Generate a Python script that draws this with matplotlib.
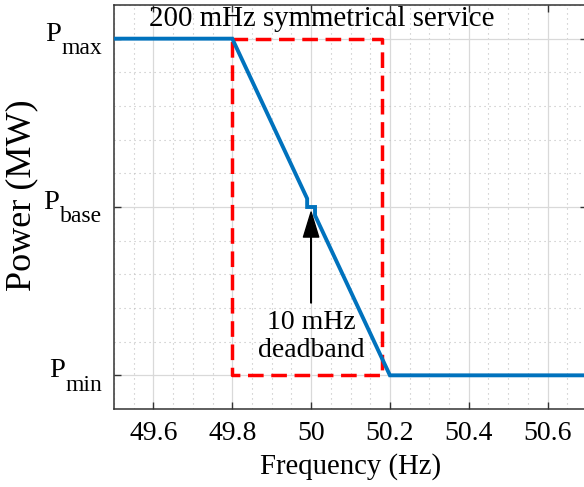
import numpy as np
import matplotlib
matplotlib.use("Agg")
import matplotlib.pyplot as plt
from matplotlib.ticker import MultipleLocator

plt.rcParams["font.family"] = ["Liberation Serif", "DejaVu Serif"]

# Niveles de potencia (normalizados)
p_min, p_base, p_max = -1.0, 0.0, 1.0
nombres_y = ["min", "base", "max"]

# Curva de respuesta en frecuencia con banda muerta de 10 mHz
frec = [49.5, 49.8, 49.99, 49.99, 50.01, 50.01, 50.2, 50.7]
potencia = [1.0, 1.0, 0.05, 0.0, 0.0, -0.05, -1.0, -1.0]

# Caja del servicio simetrico de 200 mHz
caja_x = [49.8, 50.18]
caja_y = [p_min, p_max]

ticks_x = [49.6, 49.8, 50.0, 50.2, 50.4, 50.6]
etiquetas_x = ["49.6", "49.8", "50", "50.2", "50.4", "50.6"]

azul = (0.0, 0.447, 0.741)

fig = plt.figure(figsize=(5.84, 4.87), dpi=100)
ax = fig.add_axes([114 / 584, 78 / 487, 473 / 584, 404 / 487])

ax.set_xlim(49.5, 50.7)
ax.set_ylim(-1.2, 1.2)

# Rejilla mayor continua y menor punteada
ax.set_xticks(ticks_x)
ax.set_xticklabels(etiquetas_x)
ax.xaxis.set_minor_locator(MultipleLocator(0.05))
ax.set_yticks([p_min, p_base, p_max])
ax.set_yticklabels([])
ax.yaxis.set_minor_locator(MultipleLocator(0.2))
ax.grid(True, which="major", color="0.85", linewidth=0.9, linestyle="-")
ax.grid(True, which="minor", color="0.75", linewidth=0.8, linestyle=(0, (1, 3.5)))
ax.set_axisbelow(True)

ax.tick_params(which="major", direction="in", length=5, width=1.0, color="0.2",
               top=True, right=True, labelsize=20, pad=9)
ax.tick_params(which="minor", length=0, top=True, right=True)
for s in ax.spines.values():
    s.set_color("0.2")
    s.set_linewidth(1.1)

# Caja punteada roja
bx = [caja_x[0], caja_x[1], caja_x[1], caja_x[0], caja_x[0]]
by = [caja_y[1], caja_y[1], caja_y[0], caja_y[0], caja_y[1]]
ax.plot(bx, by, color="red", linewidth=2.5, linestyle=(0, (4.5, 2.2)), zorder=3)

# Curva de potencia
ax.plot(frec, potencia, color=azul, linewidth=2.8, solid_joinstyle="miter", zorder=4)

ax.text(49.589, 1.118, "200 mHz symmetrical service", fontsize=20.8,
        ha="left", va="center", zorder=5)

# Flecha y texto de la banda muerta
ax.annotate("", xy=(50.0, -0.03), xytext=(50.0, -0.57),
            arrowprops=dict(facecolor="black", edgecolor="black", width=0.4,
                            headwidth=11, headlength=18, shrink=0), zorder=5)
ax.text(50.0, -0.77, "10 mHz\ndeadband", fontsize=20, ha="center", va="center",
        linespacing=1.15, zorder=5)

ax.set_xlabel("Frequency (Hz)", fontsize=20.7, va="center")
ax.xaxis.set_label_coords(0.5, -0.1436)
ax.set_ylabel("Power (MW)", fontsize=26, va="center")
ax.yaxis.set_label_coords(-0.1945, 0.53)

# Etiquetas del eje y: P con subindice
trans = ax.get_yaxis_transform()
fig.canvas.draw()
rend = fig.canvas.get_renderer()
for yv, nombre in zip([p_min, p_base, p_max], nombres_y):
    sub = ax.annotate(nombre, xy=(0, yv), xycoords=trans, xytext=(-8.5, -11),
                      textcoords="offset points", ha="right", va="baseline",
                      fontsize=17)
    ancho = sub.get_window_extent(rend).width * 72 / fig.dpi
    ax.annotate("P", xy=(0, yv), xycoords=trans, xytext=(-8.5 - ancho - 0.5, -1.5),
                textcoords="offset points", ha="right", va="baseline",
                fontsize=20.5)

fig.savefig("out.png", dpi=100)
